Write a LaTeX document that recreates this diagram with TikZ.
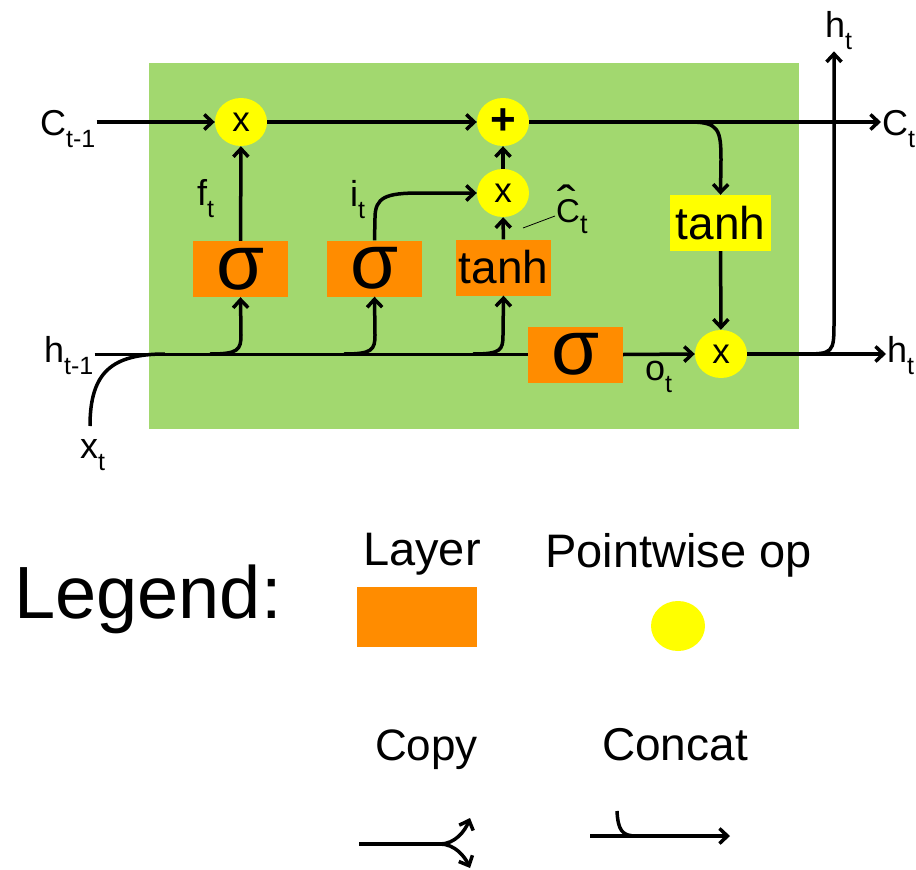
\documentclass[tikz,border=0pt]{standalone}
\usepackage{graphicx}
\usepackage{fontspec}
\setmainfont{Liberation Sans}
\usetikzlibrary{arrows.meta,shapes.geometric}
\definecolor{cellgreen}{RGB}{162,216,111}
\definecolor{layerorange}{RGB}{255,140,0}
\definecolor{opyellow}{RGB}{255,255,0}
\newcommand\lsub[2][25]{\raisebox{-0.36em}{\fontsize{#1}{#1}\selectfont #2}}
\newcommand\hatC{\rlap{\kern0.04em\raisebox{0.12em}{\scalebox{1.7}[1.4]{ˆ}}}C}

\begin{document}
\begin{tikzpicture}[x=1pt,y=-1pt,
    wire/.style={line width=3.5pt},
    arr/.style={wire,-{Straight Barb[length=8pt,width=15pt]}},
    layer/.style={fill=layerorange,minimum width=95pt,minimum height=56pt,inner sep=0pt},
    sig/.style={layer,font=\fontsize{78}{78}\selectfont},
    tanhbox/.style={layer,font=\fontsize{46}{46}\selectfont},
    pointop/.style={ellipse,fill=opyellow,minimum width=52pt,minimum height=48pt,inner sep=0pt,font=\fontsize{35}{35}\selectfont},
    lbl/.style={anchor=base west,inner sep=1pt,font=\fontsize{36}{40}\selectfont}]
        \useasboundingbox (0,0) rectangle (916,870);
        \fill[cellgreen] (149,63) rectangle (799,429);
        % pointwise ops
        \node[pointop] (fx) at (241,122) {x};
        \node[pointop,font=\fontsize{44}{44}\selectfont\bfseries] (addc) at (503,122) {+};
        \node[pointop] (ix) at (503,193) {x};
        \node[pointop] (ox) at (721,354) {x};
        % layers
        \node[sig] (sigf) at (240.5,269) {σ};
        \node[sig] (sigi) at (374.5,268.5) {σ};
        \node[tanhbox] (tanc) at (503.5,267.5) {tanh};
        \node[sig] (sigo) at (575.5,354.5) {σ};
        \node[tanhbox,fill=opyellow,minimum width=101pt] (tanhy) at (720.5,223) {tanh};
        % labels
        \node[lbl] (cin) at (39,135) {C\lsub{t-1}};
        \node[lbl] (hin) at (43,362) {h\lsub{t-1}};
        \node[lbl] (xin) at (79,458) {x\lsub{t}};
        \node[lbl] (cout) at (881,135) {C\lsub{t}};
        \node[lbl] (hout) at (886,362) {h\lsub{t}};
        \node[lbl] (htop) at (824,37) {h\lsub{t}};
        \node[lbl] (ft) at (196,205) {f\lsub{t}};
        \node[lbl] (it) at (349,206) {i\lsub{t}};
        \node[lbl] (ot) at (644,380) {o\lsub{t}};
        \node[lbl,font=\fontsize{33}{36}\selectfont] (chat) at (555,222) {\hatC\lsub[27]{t}};
        \coordinate (hsplit) at (834,354);
        \coordinate (xfoot) at (90,426);
        % cell state
        \draw[arr] (cin.east |- fx) -- (fx);
        \draw[arr] (fx) -- (addc);
        \draw[arr] (addc) -- (cout.west |- addc);
        \draw[arr] (690,122) .. controls (719,122) and (721,130) .. (721,160) -- (tanhy.north);
        \draw[arr] (tanhy) -- (ox);
        % hidden state
        \draw[wire] (hin.east |- sigo) -- (sigo.west);
        \draw[wire] (xfoot) .. controls (90,372) and (112,354) .. (165,354);
        \draw[arr] (210,354) .. controls (238,354) and (241,350) .. (241,335) -- (sigf.south);
        \draw[arr] (344,354) .. controls (372,354) and (375,350) .. (375,335) -- (sigi.south);
        \draw[arr] (473,354) .. controls (501,354) and (503,350) .. (503,335) -- (tanc.south);
        \draw[arr] (sigf) -- (fx);
        \draw[arr] (sigi.north) -- (375,218) .. controls (375,197) and (386,193) .. (420,193) -- (ix.west);
        \draw[arr] (tanc) -- (ix);
        \draw[arr] (ix) -- (addc);
        \draw[line width=0.8pt] (523,228) -- (555,216);
        \draw[arr] (sigo.east) -- (ox.west);
        \draw[arr] (ox) -- (hout.west |- ox);
        \draw[arr] (800,354) .. controls (834,354) .. (hsplit |- 0,320) -- (hsplit |- htop.south);
        % legend
        \node[anchor=base west,inner sep=0pt,font=\fontsize{74}{80}\selectfont] (legend) at (14,618) {Legend:};
        \node[anchor=base west,inner sep=0pt,font=\fontsize{47}{50}\selectfont] (layerlbl) at (363,565) {Layer};
        \fill[layerorange] (357,587) rectangle (477,647);
        \node[anchor=base west,inner sep=0pt,font=\fontsize{47}{50}\selectfont] (oplbl) at (545,567) {Pointwise op};
        \node[pointop,minimum width=54pt,minimum height=50pt] (opkey) at (678,626) {};
        \node[anchor=base west,inner sep=0pt,font=\fontsize{44}{48}\selectfont] (copylbl) at (375,760) {Copy};
        \node[anchor=base west,inner sep=0pt,font=\fontsize{46}{50}\selectfont] (catlbl) at (602,760) {Concat};
        \coordinate (copyfork) at (440,844);
        \draw[wire] (359,844) -- (copyfork);
        \draw[arr] (copyfork) .. controls (455,844) and (465,831) .. (470,818);
        \draw[arr] (copyfork) .. controls (455,844) and (465,857) .. (470,868);
        \draw[arr] (590,836) -- (730,836);
        \draw[wire] (617,811) .. controls (618,830) and (622,836) .. (636,836);
    \end{tikzpicture}
\end{document}
